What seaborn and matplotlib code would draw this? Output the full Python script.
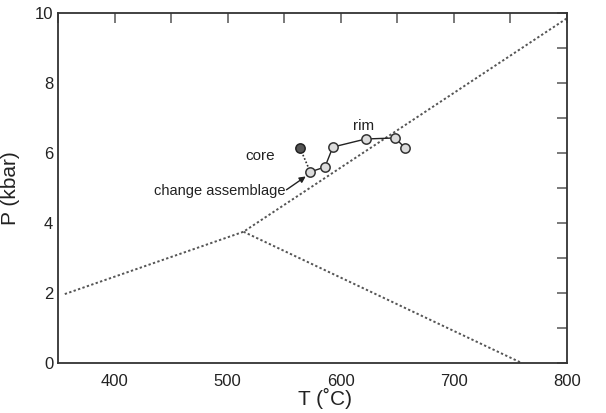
import matplotlib
matplotlib.use("Agg")
import matplotlib.pyplot as plt
import seaborn as sns
import pandas as pd
from matplotlib.ticker import MultipleLocator

sns.set_theme(style="white")
plt.rcParams['font.family'] = ['Liberation Sans', 'DejaVu Sans']

# Reaction boundary lines (T in °C, P in kbar)
upper_T = [356, 514, 800]
upper_P = [1.97, 3.75, 9.85]
lower_T = [514, 760]
lower_P = [3.75, 0.0]

# P-T path points
core_T = [564, 573]
core_P = [6.14, 5.46]
path_T = [573, 586, 593, 622, 648, 657, 622]
path_P = [5.46, 5.6, 6.17, 6.4, 6.43, 6.14, 6.4]
pts_T = [573, 586, 593, 622, 648, 657]
pts_P = [5.46, 5.6, 6.17, 6.4, 6.43, 6.14]

xticks = [400, 500, 600, 700, 800]
yticks = [0, 2, 4, 6, 8, 10]

fig = plt.figure(figsize=(6.06, 4.13), dpi=100)
ax = fig.add_axes([58/606, 1-363/413, (567-58)/606, (363-13)/413])

dash_col = '#555555'
up = pd.DataFrame({'T': upper_T, 'P': upper_P})
lo = pd.DataFrame({'T': lower_T, 'P': lower_P})
sns.lineplot(data=up, x='T', y='P', ax=ax, color=dash_col, lw=1.4, ls=(0, (1.2, 1.2)), sort=False)
sns.lineplot(data=lo, x='T', y='P', ax=ax, color=dash_col, lw=1.4, ls=(0, (1.2, 1.2)), sort=False)

cdf = pd.DataFrame({'T': core_T, 'P': core_P})
sns.lineplot(data=cdf, x='T', y='P', ax=ax, color='#333333', lw=1.2, ls=(0, (1, 1.2)), sort=False)
pdf = pd.DataFrame({'T': path_T, 'P': path_P})
sns.lineplot(data=pdf, x='T', y='P', ax=ax, color='#222222', lw=1.0, sort=False)

sdf = pd.DataFrame({'T': pts_T, 'P': pts_P})
sns.scatterplot(data=sdf, x='T', y='P', ax=ax, s=45, facecolor='#dcdcdc', edgecolor='#333333', linewidth=1.1, zorder=5)
ax.scatter(core_T[:1], core_P[:1], s=45, facecolor='#555555', edgecolor='#222222', linewidth=1.1, zorder=6)

ax.text(542, 5.9, 'core', ha='right', va='center', fontsize=11, color='#222222')
ax.text(620, 6.78, 'rim', ha='center', va='center', fontsize=11, color='#222222')
ax.text(551, 4.92, 'change assemblage', ha='right', va='center', fontsize=10.5, color='#222222')
ax.annotate('', xy=(569, 5.33), xytext=(552, 4.95),
            arrowprops=dict(arrowstyle='-|>', color='#222222', lw=1.0, mutation_scale=9,
                            shrinkA=0, shrinkB=0))

ax.set_xlim(350, 800)
ax.set_ylim(0, 10)
ax.set_xticks(xticks)
ax.set_yticks(yticks)
ax.xaxis.set_minor_locator(MultipleLocator(50))
ax.yaxis.set_minor_locator(MultipleLocator(1))
ax.tick_params(which='both', direction='in', length=7, width=1.1, color='#555555',
               top=True, right=True, labelsize=12, labelcolor='#222222')
ax.tick_params(axis='x', pad=8)
for s in ax.spines.values():
    s.set_color('#333333')
    s.set_linewidth(1.3)
ax.set_xlabel('T (˚C)', fontsize=15, color='#222222')
ax.set_ylabel('P (kbar)', fontsize=15, color='#222222')
ax.xaxis.set_label_coords(0.525, -0.07)
ax.yaxis.set_label_coords(-0.075, 0.5)
ax.grid(False)

fig.savefig('out.png', dpi=100)
